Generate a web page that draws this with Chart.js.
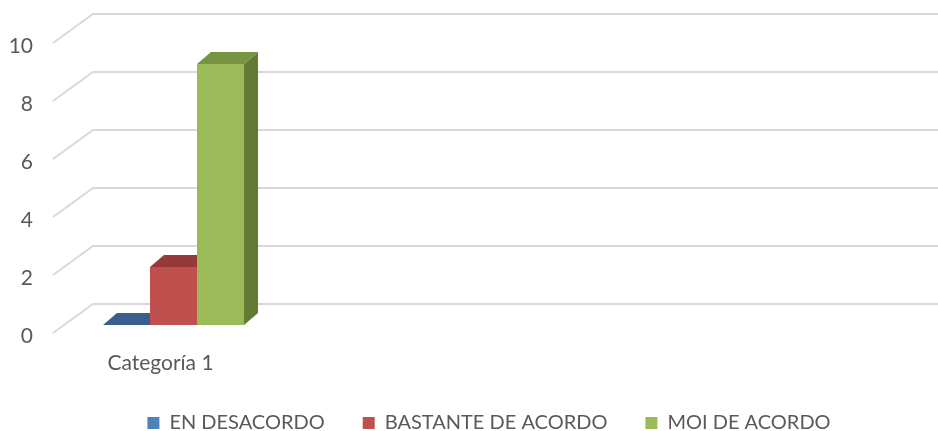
<!DOCTYPE html>
<html lang="gl">
<head>
<meta charset="UTF-8">
<title>Categoría 1</title>
<script src="https://cdn.jsdelivr.net/npm/chart.js"></script>
<style>
html, body { margin: 0; padding: 0; background: #fff; }
#wrap { width: 938px; height: 431px; position: relative; }
</style>
</head>
<body>
<div id="wrap"><canvas id="grafico"></canvas></div>
<script>
// datos
const categorias = ['Categoría 1', '', '', ''];
const enDesacordo = [0, null, null, null];
const bastanteDeAcordo = [2, null, null, null];
const moiDeAcordo = [9, null, null, null];
const ticksY = [0, 2, 4, 6, 8, 10];

// cores: frente, tapa, lado
const cores = [
    ['#4f81bd', '#3a5f8c', '#34557d'],
    ['#c0504d', '#953a38', '#86322f'],
    ['#9bbb59', '#789341', '#637a34']
];

// profundidade 3D
const PROF_X = 14, PROF_Y = 12;
const PAREDE_X = 40, PAREDE_Y = 29, FRENTE_Y = 8;
const LENDA_PAD = 38;

function poly(ctx, pts, cor) {
    ctx.beginPath();
    ctx.moveTo(pts[0][0], pts[0][1]);
    for (let i = 1; i < pts.length; i++) ctx.lineTo(pts[i][0], pts[i][1]);
    ctx.closePath();
    ctx.fillStyle = cor;
    ctx.fill();
}

const fondo3d = {
    id: 'fondo3d',
    afterLayout(chart) {
        // a lenda vai centrada un pouco á dereita e pegada ao fondo
        const lg = chart.legend;
        lg.left += 26; lg.right += 26;
        lg.top = 423 - LENDA_PAD - 10; lg.bottom = 431;
    },
    beforeDatasetsDraw(chart) {
        const ctx = chart.ctx;
        const y = chart.scales.y;
        const x0 = chart.chartArea.left - 13;
        ctx.save();
        // grella: parede lateral + parede do fondo
        ctx.strokeStyle = '#d9d9d9';
        ctx.lineWidth = 2;
        ticksY.forEach(v => {
            const py = y.getPixelForValue(v);
            ctx.beginPath();
            ctx.moveTo(x0, py + FRENTE_Y);
            ctx.lineTo(x0 + PAREDE_X, py + FRENTE_Y - PAREDE_Y);
            ctx.lineTo(chart.width, py + FRENTE_Y - PAREDE_Y);
            ctx.stroke();
        });
        // tapas e lados das barras (as frentes tápanos despois)
        chart.data.datasets.forEach((ds, i) => {
            chart.getDatasetMeta(i).data.forEach((bar, j) => {
                if (ds.data[j] === null) return;
                const l = bar.x - bar.width / 2, r = bar.x + bar.width / 2;
                const t = bar.y, b = bar.base;
                poly(ctx, [[r, t], [r + PROF_X, t - PROF_Y], [r + PROF_X, b - PROF_Y], [r, b]], cores[i][2]);
                poly(ctx, [[l, t], [r, t], [r + PROF_X, t - PROF_Y], [l + PROF_X, t - PROF_Y]], cores[i][1]);
            });
        });
        ctx.restore();
    }
};

const fonte = { family: 'Lato', size: 21 };

new Chart(document.getElementById('grafico'), {
    type: 'bar',
    data: {
        labels: categorias,
        datasets: [
            { label: 'EN DESACORDO', data: enDesacordo, backgroundColor: cores[0][0] },
            { label: 'BASTANTE DE ACORDO', data: bastanteDeAcordo, backgroundColor: cores[1][0] },
            { label: 'MOI DE ACORDO', data: moiDeAcordo, backgroundColor: cores[2][0] }
        ]
    },
    options: {
        responsive: true,
        maintainAspectRatio: false,
        animation: false,
        layout: { padding: { left: 0, right: 12, top: 35, bottom: 0 } },
        datasets: { bar: { categoryPercentage: 0.656, barPercentage: 1, skipNull: false } },
        scales: {
            x: {
                afterFit: s => { s.height = 52; },
                grid: { display: false, drawTicks: false },
                border: { display: false },
                ticks: { color: '#595959', font: fonte, padding: 26, labelOffset: -13, maxRotation: 0, autoSkip: false }
            },
            y: {
                min: 0, max: 10,
                afterFit: s => { s.width = 66; s.paddingTop = 0; s.paddingBottom = 0; },
                grid: { display: false, drawTicks: false },
                border: { display: false },
                ticks: { stepSize: 2, color: '#595959', font: fonte, padding: 33, labelOffset: 11 }
            }
        },
        plugins: {
            legend: {
                position: 'bottom',
                maxHeight: 54,
                labels: { color: '#595959', font: { family: 'Lato', size: 20 }, boxWidth: 12, boxHeight: 12, padding: LENDA_PAD }
            },
            tooltip: { enabled: false }
        }
    },
    plugins: [fondo3d]
});
</script>
</body>
</html>
